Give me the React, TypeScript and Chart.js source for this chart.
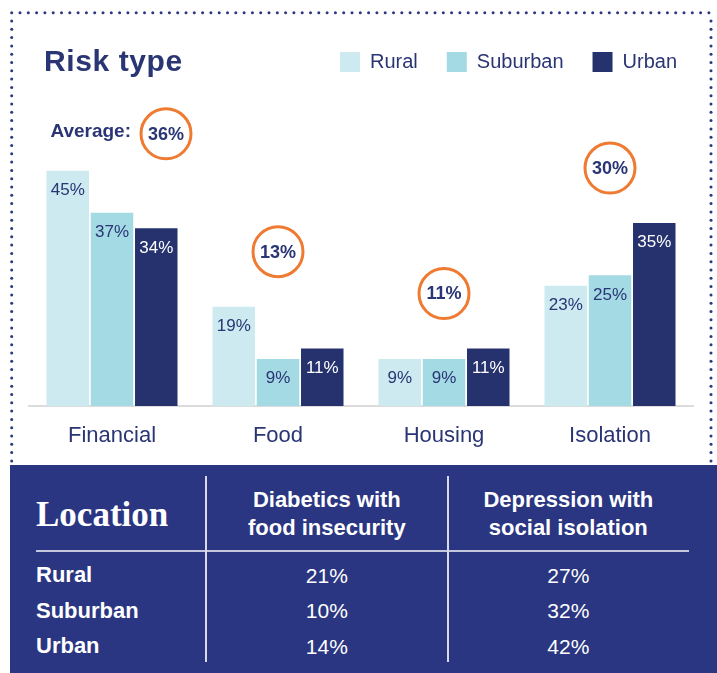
import React, { useEffect, useRef } from 'react';
import { Chart, registerables } from 'chart.js';

Chart.register(...registerables);

// ---------- data ----------
const categories = ['Financial', 'Food', 'Housing', 'Isolation'];
const seriesNames = ['Rural', 'Suburban', 'Urban'];
const rural = [45, 19, 9, 23];
const suburban = [37, 9, 9, 25];
const urban = [34, 11, 11, 35];
const averages = [36, 13, 11, 30];
const averageLabel = 'Average:';
const chartTitle = 'Risk type';

const tableTitle = 'Location';
const tableHeaders = [['Diabetics with', 'food insecurity'], ['Depression with', 'social isolation']];
const tableLocations = ['Rural', 'Suburban', 'Urban'];
const diabeticsFoodInsecurity = [21, 10, 14];
const depressionSocialIsolation = [27, 32, 42];

// ---------- styles ----------
const FONT = '"Liberation Sans", Arial, Helvetica, sans-serif';
const SERIF = '"Liberation Serif", "Times New Roman", serif';
const TEXT = '#2A3574';
const COLORS = ['#CDEAF0', '#A3DAE4', '#26326E'];
const ORANGE = '#EE7B31';
const TABLE_BG = '#2A3681';
const DOT = '#2B3781';

const overlayPlugin = {
  id: 'overlay',
  afterDatasetsDraw(chart: any) {
    const ctx = chart.ctx;
    ctx.save();
    ctx.textAlign = 'center';
    ctx.textBaseline = 'middle';
    chart.data.datasets.forEach((ds: any, di: number) => {
      const meta = chart.getDatasetMeta(di);
      meta.data.forEach((bar: any, i: number) => {
        ctx.font = `17px ${FONT}`;
        ctx.fillStyle = di === 2 ? '#ffffff' : TEXT;
        ctx.fillText(`${ds.data[i]}%`, bar.x, bar.y + 19.5);
      });
    });
    const xs = chart.scales.x;
    const ys = chart.scales.y;
    averages.forEach((avg, i) => {
      const maxV = Math.max(rural[i], suburban[i], urban[i]);
      const top = ys.getPixelForValue(maxV);
      const cx = xs.getPixelForValue(i) + (i === 0 ? 54 : 0);
      const cy = top - (i === 0 ? 37 : 55);
      ctx.beginPath();
      ctx.arc(cx, cy, 25, 0, Math.PI * 2);
      ctx.lineWidth = 3;
      ctx.strokeStyle = ORANGE;
      ctx.stroke();
      ctx.fillStyle = TEXT;
      ctx.textAlign = 'center';
      ctx.font = `bold 18px ${FONT}`;
      ctx.fillText(`${avg}%`, cx, cy + 1);
      if (i === 0) {
        ctx.textAlign = 'right';
        ctx.font = `bold 19px ${FONT}`;
        ctx.fillText(averageLabel, cx - 35, cy - 2);
      }
    });
    ctx.restore();
  },
};

function ChartCanvas() {
  const ref = useRef<HTMLCanvasElement | null>(null);
  useEffect(() => {
    if (!ref.current) return;
    const chart = new Chart(ref.current, {
      type: 'bar',
      data: {
        labels: categories,
        datasets: [rural, suburban, urban].map((d, i) => ({
          label: seriesNames[i],
          data: d,
          backgroundColor: COLORS[i],
          borderWidth: 0,
          categoryPercentage: 0.8,
          barPercentage: 0.96,
        })),
      },
      options: {
        responsive: false,
        animation: false,
        layout: { padding: { left: 29, right: 11, top: 23, bottom: 0.6 } },
        plugins: {
          title: { display: false },
          tooltip: { enabled: false },
          legend: {
            display: true,
            position: 'top',
            align: 'end',
            labels: {
              boxWidth: 20,
              boxHeight: 20,
              padding: 29,
              color: TEXT,
              font: { family: FONT, size: 20 },
            },
          },
        },
        scales: {
          x: {
            grid: { display: false, drawTicks: false },
            border: { display: true, color: '#DCDCDC', width: 2 },
            ticks: { color: TEXT, font: { family: FONT, size: 22 }, padding: 17 },
          },
          y: {
            display: true,
            position: 'right',
            min: 0,
            max: 62,
            grid: { display: false, drawTicks: false },
            border: { display: false },
            ticks: { display: false },
            afterFit: (s: any) => {
              s.width = 13;
            },
          },
        },
      } as any,
      plugins: [overlayPlugin],
    });
    return () => chart.destroy();
  }, []);
  return (
    <canvas
      ref={ref}
      width={717}
      height={467}
      style={{ position: 'absolute', left: 0, top: 0, width: 717, height: 467 }}
    />
  );
}

function Dots() {
  const dots: JSX.Element[] = [];
  const step = 8.3;
  for (let x = 11.7; x <= 712; x += step) dots.push(<circle key={'t' + x} cx={x} cy={12.7} r={1.5} fill={DOT} />);
  for (let y = 12.7 + step; y <= 463; y += step) {
    dots.push(<circle key={'l' + y} cx={11.7} cy={y} r={1.5} fill={DOT} />);
    dots.push(<circle key={'r' + y} cx={711} cy={y} r={1.5} fill={DOT} />);
  }
  return (
    <svg width={717} height={673} style={{ position: 'absolute', left: 0, top: 0 }}>
      {dots}
    </svg>
  );
}

const abs = (o: React.CSSProperties): React.CSSProperties => ({ position: 'absolute', whiteSpace: 'nowrap', ...o });

export default function App() {
  const col2 = { left: 206, width: 241.7 };
  const col3 = { left: 447.7, width: 241.3 };
  const rowTops = [565, 600.3, 635.6];
  return (
    <div style={{ position: 'absolute', left: 0, top: 0, width: 717, height: 673, overflow: 'hidden', background: '#fff' }}>
      <Dots />
      <ChartCanvas />
      <div style={abs({ left: 44, top: 46.3, font: `bold 30px ${FONT}`, lineHeight: '30px', letterSpacing: '0.6px', color: TEXT })}>{chartTitle}</div>

      <div style={abs({ left: 10, top: 465, width: 707, height: 208, background: TABLE_BG })} />
      <div style={abs({ left: 36, top: 496.7, font: `bold 35px ${SERIF}`, lineHeight: '35px', color: '#fff' })}>{tableTitle}</div>
      {[col2, col3].map((c, i) => (
        <div
          key={'h' + i}
          style={abs({
            left: c.left,
            width: c.width,
            top: 485.6,
            textAlign: 'center',
            font: `bold 22px ${FONT}`,
            lineHeight: '28.3px',
            color: '#fff',
          })}
        >
          {tableHeaders[i][0]}
          <br />
          {tableHeaders[i][1]}
        </div>
      ))}
      <div style={abs({ left: 36, top: 550, width: 653, height: 2, background: '#C5C8DD' })} />
      <div style={abs({ left: 205.3, top: 476, width: 1.5, height: 186, background: '#D8DAE8' })} />
      <div style={abs({ left: 447, top: 476, width: 1.5, height: 186, background: '#D8DAE8' })} />
      {tableLocations.map((loc, i) => (
        <React.Fragment key={loc}>
          <div style={abs({ left: 36, top: rowTops[i] - 0.8, font: `bold 22px ${FONT}`, lineHeight: '22px', color: '#fff' })}>{loc}</div>
          <div style={abs({ left: col2.left, width: col2.width, top: rowTops[i], textAlign: 'center', font: `21px ${FONT}`, lineHeight: '21px', color: '#fff' })}>
            {diabeticsFoodInsecurity[i]}%
          </div>
          <div style={abs({ left: col3.left, width: col3.width, top: rowTops[i], textAlign: 'center', font: `21px ${FONT}`, lineHeight: '21px', color: '#fff' })}>
            {depressionSocialIsolation[i]}%
          </div>
        </React.Fragment>
      ))}
    </div>
  );
}
